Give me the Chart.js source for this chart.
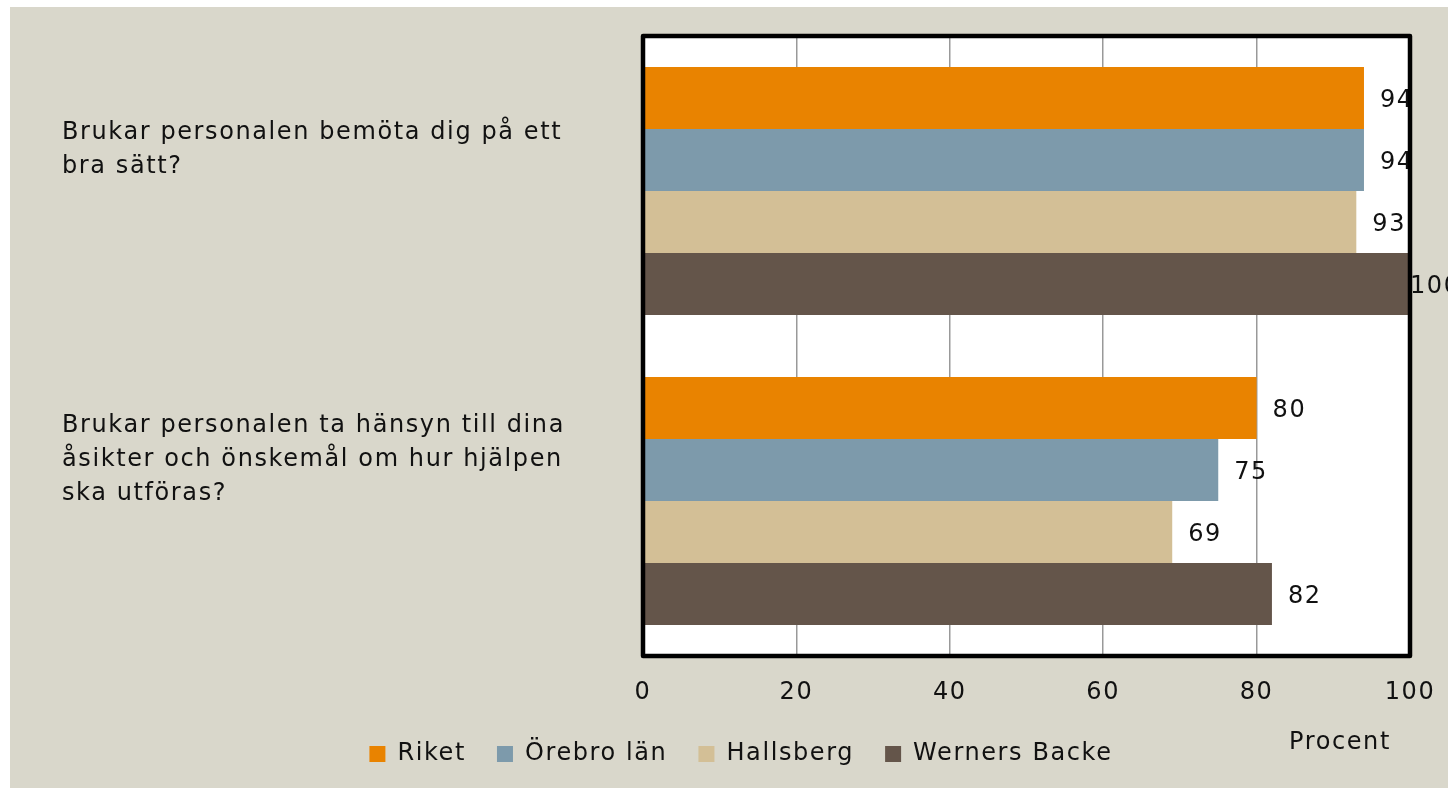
<!DOCTYPE html>
<html lang="sv">
<head>
<meta charset="utf-8">
<title>Bemötande</title>
<script src="https://cdn.jsdelivr.net/npm/chart.js@4"></script>
<style>
  body { margin: 0; background: #ffffff; }
  #grafik { position: absolute; left: 10px; top: 7px; background: #d9d7cb; }
</style>
</head>
<body>
<canvas id="grafik" width="1438" height="781"></canvas>
<script>
// data
const fragor = [
  ['Brukar personalen bemöta dig på ett', 'bra sätt?'],
  ['Brukar personalen ta hänsyn till dina', 'åsikter och önskemål om hur hjälpen', 'ska utföras?']
];
const serier = ['Riket', 'Örebro län', 'Hallsberg', 'Werners Backe'];
const riket = [94, 80];
const orebroLan = [94, 75];
const hallsberg = [93, 69];
const wernersBacke = [100, 82];
const xTicks = [0, 20, 40, 60, 80, 100];
const axelTitel = 'Procent';

const farger = ['#e98300', '#7d9aab', '#d3bf96', '#64554a'];
const typsnitt = '"DejaVu Sans", sans-serif';
const spatiering = '1.6px';

// bakgrund, ram, etiketter
const ritaExtra = {
  id: 'ritaExtra',
  beforeUpdate(chart) {
    chart.ctx.letterSpacing = spatiering;
  },
  beforeDraw(chart) {
    const ctx = chart.ctx;
    const a = chart.chartArea;
    ctx.letterSpacing = spatiering;
    ctx.save();
    ctx.fillStyle = '#ffffff';
    ctx.fillRect(a.left, a.top, a.right - a.left, a.bottom - a.top);
    ctx.restore();
  },
  afterDatasetsDraw(chart) {
    const ctx = chart.ctx;
    const a = chart.chartArea;
    ctx.save();
    ctx.font = '24px ' + typsnitt;
    ctx.fillStyle = '#111111';
    ctx.textAlign = 'left';
    ctx.textBaseline = 'middle';
    chart.data.datasets.forEach((ds, i) => {
      chart.getDatasetMeta(i).data.forEach((bar, j) => {
        const x = Math.min(bar.x + 16, a.right);
        ctx.fillText(String(ds.data[j]), x, bar.y + 3);
      });
    });
    ctx.restore();
  },
  afterDraw(chart) {
    const ctx = chart.ctx;
    const a = chart.chartArea;
    ctx.save();
    ctx.strokeStyle = '#000000';
    ctx.lineWidth = 4.5;
    ctx.lineJoin = 'round';
    ctx.strokeRect(a.left, a.top, a.right - a.left, a.bottom - a.top);
    ctx.font = '24px ' + typsnitt;
    ctx.fillStyle = '#111111';
    ctx.textAlign = 'center';
    ctx.textBaseline = 'middle';
    ctx.fillText(axelTitel, a.right - 70, a.bottom + 87);
    ctx.restore();
  }
};

new Chart(document.getElementById('grafik'), {
  type: 'bar',
  data: {
    labels: fragor,
    datasets: [riket, orebroLan, hallsberg, wernersBacke].map((v, i) => ({
      label: serier[i],
      data: v,
      backgroundColor: farger[i],
      borderWidth: 0,
      categoryPercentage: 0.8,
      barPercentage: 1
    }))
  },
  options: {
    indexAxis: 'y',
    responsive: false,
    animation: false,
    layout: { padding: { left: 52, right: 28, top: 29, bottom: 17 } },
    plugins: {
      tooltip: { enabled: false },
      legend: {
        position: 'bottom',
        maxHeight: 60,
        labels: {
          boxWidth: 16,
          boxHeight: 16,
          padding: 31,
          color: '#111111',
          font: { family: typsnitt, size: 24 }
        }
      }
    },
    scales: {
      x: {
        min: 0,
        max: 100,
        afterBuildTicks(scale) {
          scale.ticks = xTicks.map(v => ({ value: v }));
        },
        afterFit(scale) {
          scale.paddingRight = 38;
          scale.height = 55;
        },
        border: { display: false },
        grid: { color: '#999999', lineWidth: 1.5, drawTicks: false },
        ticks: {
          padding: 22,
          color: '#111111',
          font: { family: typsnitt, size: 24 }
        }
      },
      y: {
        afterFit(scale) {
          scale.width = 581;
          scale.paddingTop = 0;
          scale.paddingBottom = 0;
        },
        border: { display: false },
        grid: { display: false },
        ticks: {
          crossAlign: 'far',
          labelOffset: -41,
          color: '#111111',
          font: { family: typsnitt, size: 24, lineHeight: 1.42 }
        }
      }
    }
  },
  plugins: [ritaExtra]
});
</script>
</body>
</html>
